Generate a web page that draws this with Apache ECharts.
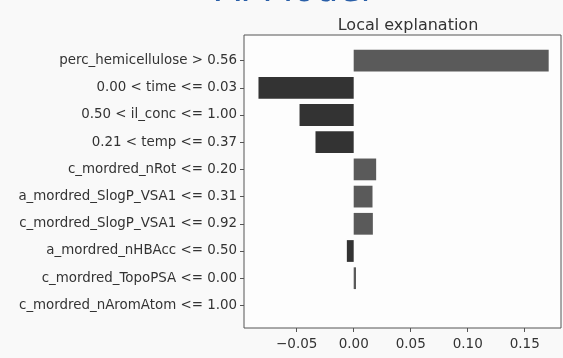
<!DOCTYPE html>
<html><head><meta charset="utf-8">
<script src="https://cdn.jsdelivr.net/npm/echarts@6/dist/echarts.min.js"></script>
<style>html,body{margin:0;padding:0;background:#f9f9f9;}#c{width:563px;height:358px;}</style>
</head><body><div id="c"></div>
<script>
const categories = [
  'perc_hemicellulose > 0.56',
  '0.00 < time <= 0.03',
  '0.50 < il_conc <= 1.00',
  '0.21 < temp <= 0.37',
  'c_mordred_nRot <= 0.20',
  'a_mordred_SlogP_VSA1 <= 0.31',
  'c_mordred_SlogP_VSA1 <= 0.92',
  'a_mordred_nHBAcc <= 0.50',
  'c_mordred_TopoPSA <= 0.00',
  'c_mordred_nAromAtom <= 1.00'
];
const weights = [0.171, -0.0835, -0.0475, -0.0335, 0.0197, 0.0165, 0.0168, -0.006, 0.002, 0];
const xTicks = [-0.05, 0.00, 0.05, 0.10, 0.15];
const xMin = -0.0962, xMax = 0.1818;

const font = 'DejaVu Sans';
const chart = echarts.init(document.getElementById('c'));
chart.setOption({
  backgroundColor: '#f9f9f9',
  animation: false,
  title: [
    {text: 'AI Model', left: 288, textAlign: 'center', top: -31, textStyle: {fontFamily: font, fontSize: 36, fontWeight: 'normal', color: '#2a5fa8'}},
    {text: 'Local explanation', left: 403, textAlign: 'center', top: 13, textStyle: {fontFamily: font, fontSize: 16, fontWeight: 'normal', color: '#333'}}
  ],
  grid: [
    {left: 244, top: 35, width: 317, height: 293, show: true, borderColor: '#555', borderWidth: 1, backgroundColor: '#fdfdfd'},
    {left: 244, top: 47, width: 317, height: 272}
  ],
  xAxis: [
    {type: 'value', gridIndex: 0, min: xMin, max: xMax,
     axisLine: {show: false}, splitLine: {show: false},
     axisTick: {show: true, inside: false, length: 4, lineStyle: {color: '#555'}, customValues: xTicks},
     axisLabel: {customValues: xTicks, fontFamily: font, fontSize: 13.5, color: '#333', margin: 9,
       formatter: v => (v < 0 ? '\u2212' : '') + Math.abs(v).toFixed(2)}},
    {type: 'value', gridIndex: 1, min: xMin, max: xMax, show: false}
  ],
  yAxis: [
    {type: 'value', gridIndex: 0, show: false},
    {type: 'category', gridIndex: 1, data: categories, inverse: true,
     axisLine: {show: false, onZero: false}, splitLine: {show: false},
     axisTick: {show: true, alignWithLabel: true, length: 4, lineStyle: {color: '#555'}},
     axisLabel: {fontFamily: font, fontSize: 13.4, color: '#333', margin: 7}}
  ],
  series: [{
    type: 'bar', xAxisIndex: 1, yAxisIndex: 1, data: weights, barWidth: '80%',
    itemStyle: {color: p => p.value >= 0 ? '#5a5a5a' : '#333333', borderWidth: 0}
  }]
});
</script></body></html>
